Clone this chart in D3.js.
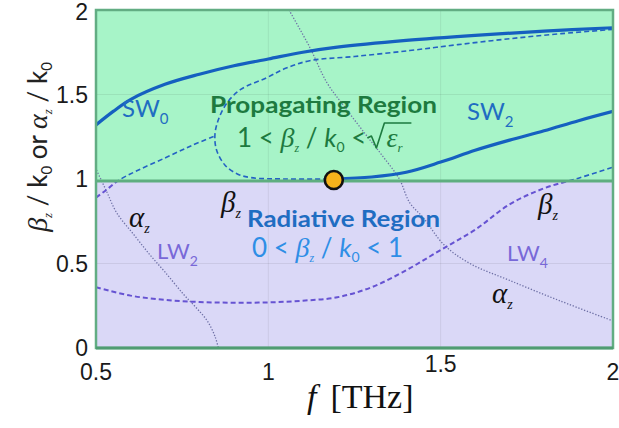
<!DOCTYPE html>
<html><head><meta charset="utf-8">
<script src="https://cdn.jsdelivr.net/npm/d3@7"></script>
<style>body{margin:0;background:#fff}svg{display:block}</style>
</head><body>
<svg id="c" width="619" height="428"></svg>
<script>
// ---------- data ----------
const xTicks = [0.5, 1, 1.5, 2];
const xTickLabels = ["0.5", "1", "1.5", "2"];
const yTicks = [0, 0.5, 1, 1.5, 2];
const yTickLabels = ["0", "0.5", "1", "1.5", "2"];

// SW0 beta (solid)
const sw0F = [0.5, 0.55, 0.6, 0.7, 0.8, 0.9, 1.0, 1.1, 1.2, 1.4, 1.6, 1.8, 2.0];
const sw0B = [1.32, 1.40, 1.47, 1.56, 1.62, 1.67, 1.71, 1.75, 1.78, 1.82, 1.85, 1.875, 1.895];
// SW2 beta (solid, starts at cutoff point)
const sw2F = [1.19, 1.3, 1.4, 1.5, 1.6, 1.7, 1.8, 1.9, 2.0];
const sw2B = [1.0, 1.012, 1.04, 1.10, 1.17, 1.23, 1.285, 1.345, 1.40];
// cutoff point
const cutF = [1.19];
const cutB = [1.0];
// dashed branch from the left edge
const dashAF = [0.5, 0.53, 0.564, 0.62, 0.706, 0.78, 0.845];
const dashAB = [0.89, 0.935, 0.99, 1.05, 1.13, 1.20, 1.255];
// dashed loop (parametric)
const dashBF = [2.0, 1.85, 1.7, 1.55, 1.41, 1.25, 1.12, 1.05, 0.996, 0.92, 0.88, 0.855, 0.845, 0.85, 0.875, 0.91, 0.95, 1.05, 1.19];
const dashBB = [1.885, 1.86, 1.83, 1.795, 1.76, 1.725, 1.70, 1.655, 1.60, 1.53, 1.45, 1.35, 1.26, 1.17, 1.08, 1.03, 1.008, 1.0, 1.0];
// leaky-wave beta (dashed)
const lwF = [0.5, 0.6, 0.7, 0.8, 0.9, 1.0, 1.1, 1.2, 1.3, 1.4, 1.5, 1.6, 1.7, 1.8, 1.9, 2.0];
const lwB = [0.36, 0.31, 0.285, 0.272, 0.268, 0.27, 0.28, 0.30, 0.36, 0.46, 0.58, 0.70, 0.85, 0.945, 1.005, 1.07];
// alpha curves (dotted)
const aLW2F = [0.47, 0.5, 0.53, 0.56, 0.61, 0.657, 0.70, 0.753, 0.79, 0.823, 0.845, 0.855];
const aLW2B = [1.2, 1.06, 0.93, 0.80, 0.67, 0.55, 0.45, 0.32, 0.24, 0.16, 0.07, 0.0];
const aLW4F = [1.06, 1.12, 1.17, 1.22, 1.28, 1.33, 1.38, 1.41, 1.45, 1.51, 1.585, 1.70, 1.845, 2.0];
const aLW4B = [2.0, 1.78, 1.57, 1.43, 1.27, 1.14, 1.0, 0.86, 0.77, 0.61, 0.50, 0.40, 0.28, 0.16];

// ---------- drawing ----------
const svg = d3.select("#c");
const x = d3.scaleLinear().domain([0.5, 2]).range([96, 613]);
const y = d3.scaleLinear().domain([0, 2]).range([348, 10]);
const X0 = x(0.5), X1 = x(2), Y0 = y(0), Y2 = y(2), Y1 = y(1) + 2;

const defs = svg.append("defs");
defs.append("clipPath").attr("id", "clipAll").append("rect")
  .attr("x", X0).attr("y", Y2).attr("width", X1 - X0).attr("height", Y0 - Y2);
defs.append("clipPath").attr("id", "clipTop").append("rect")
  .attr("x", X0).attr("y", Y2).attr("width", X1 - X0).attr("height", Y1 - Y2);
defs.append("clipPath").attr("id", "clipBot").append("rect")
  .attr("x", X0).attr("y", Y1).attr("width", X1 - X0).attr("height", Y0 - Y1);

svg.append("rect").attr("x", X0).attr("y", Y2).attr("width", X1 - X0).attr("height", Y1 - Y2).attr("fill", "#a7f4c8");
svg.append("rect").attr("x", X0).attr("y", Y1).attr("width", X1 - X0).attr("height", Y0 - Y1).attr("fill", "#dad8f7");

// faint grid
const grid = svg.append("g").attr("stroke", "#000").attr("stroke-opacity", 0.07).attr("stroke-width", 1);
[1, 1.5].forEach(v => grid.append("line").attr("x1", x(v)).attr("x2", x(v)).attr("y1", Y2).attr("y2", Y0));
[0.5, 1.5].forEach(v => grid.append("line").attr("y1", y(v)).attr("y2", y(v)).attr("x1", X0).attr("x2", X1));

const zip = (a, b) => a.map((v, i) => [v, b[i]]);
const lineP = d3.line().x(d => x(d[0])).y(d => y(d[1])).curve(d3.curveCatmullRom.alpha(0.5));

const curves = svg.append("g").attr("clip-path", "url(#clipAll)");
// dotted alpha
[zip(aLW2F, aLW2B), zip(aLW4F, aLW4B)].forEach(d =>
  curves.append("path").attr("d", lineP(d)).attr("fill", "none")
    .attr("stroke", "#6e70a6").attr("stroke-width", 1.3).attr("stroke-dasharray", "1.3,1.7"));

// dashed curves: blue above the boundary, purple below
const dashed = [zip(dashAF, dashAB), zip(dashBF, dashBB), zip(lwF, lwB)];
dashed.forEach(d => {
  curves.append("g").attr("clip-path", "url(#clipTop)").append("path").attr("d", lineP(d))
    .attr("fill", "none").attr("stroke", "#2462c4").attr("stroke-width", 1.6).attr("stroke-dasharray", "5,3");
  curves.append("g").attr("clip-path", "url(#clipBot)").append("path").attr("d", lineP(d))
    .attr("fill", "none").attr("stroke", "#6653d2").attr("stroke-width", 2).attr("stroke-dasharray", "5,3");
});

// frame + beta=1 boundary
svg.append("line").attr("x1", X0).attr("x2", X1).attr("y1", Y1).attr("y2", Y1)
  .attr("stroke", "#5eae80").attr("stroke-width", 3.2);
svg.append("rect").attr("x", X0).attr("y", Y2).attr("width", X1 - X0).attr("height", Y0 - Y2)
  .attr("fill", "none").attr("stroke", "#62ad83").attr("stroke-width", 2.5);
svg.append("line").attr("x1", X0).attr("x2", X1).attr("y1", Y0).attr("y2", Y0)
  .attr("stroke", "#4f9c72").attr("stroke-width", 3);

// solid curves
[zip(sw0F, sw0B), zip(sw2F, sw2B)].forEach(d =>
  curves.append("path").attr("d", lineP(d)).attr("fill", "none")
    .attr("stroke", "#1560c0").attr("stroke-width", 3.2).attr("stroke-linecap", "round"));

// cutoff point
svg.selectAll("circle.cut").data(zip(cutF, cutB)).join("circle").attr("class", "cut")
  .attr("cx", d => x(d[0])).attr("cy", d => y(d[1]) + 1).attr("r", 9)
  .attr("fill", "#f6b21b").attr("stroke", "#111").attr("stroke-width", 2.6);

// ---------- axes ----------
const tickFont = "'Liberation Sans', Arial, sans-serif";
svg.append("g").selectAll("text").data(yTicks).join("text")
  .attr("x", 88).attr("y", d => d === 2 ? y(d) + 10 : y(d) + 8).attr("text-anchor", "end")
  .attr("font-family", tickFont).attr("font-size", 23).attr("fill", "#1a1a1a")
  .text((d, i) => yTickLabels[i]);
svg.append("g").selectAll("text").data(xTicks).join("text")
  .attr("x", d => x(d)).attr("y", d => d === 1.5 ? 372 : 380).attr("text-anchor", "middle")
  .attr("font-family", tickFont).attr("font-size", 23).attr("fill", "#1a1a1a")
  .text((d, i) => xTickLabels[i]);

// ---------- rich text helper ----------
const SERIF = "'Liberation Serif', 'Times New Roman', serif";
const SANS = "Lato, 'Open Sans', sans-serif";
function rich(parent, x0, y0, parts, opts = {}) {
  const t = parent.append("text").attr("x", x0).attr("y", y0)
    .attr("fill", opts.fill || "#000").attr("font-family", SANS);
  if (opts.anchor) t.attr("text-anchor", opts.anchor);
  if (opts.transform) t.attr("transform", opts.transform);
  let shift = 0;
  parts.forEach(p => {
    const s = t.append("tspan").text(p.t);
    const want = p.sub || 0;
    if (want !== shift) { s.attr("dy", want - shift); shift = want; }
    s.attr("font-size", p.s).attr("font-family", p.f || SANS);
    if (p.it) s.attr("font-style", "italic");
    if (p.b) s.attr("font-weight", "bold");
    if (p.dx) s.attr("dx", p.dx);
  });
  return t;
}

// axis labels
rich(svg, 307, 408, [
  { t: "f", f: SERIF, s: 34, it: true },
  { t: "[THz]", f: SERIF, s: 34, dx: 14 }
], { fill: "#111" });

rich(svg, 0, 0, [
  { t: "β", f: SERIF, s: 28, it: true },
  { t: "z", f: SERIF, s: 13, it: true, sub: 5 },
  { t: " / k", s: 26 },
  { t: "0", s: 15, sub: 5 },
  { t: " or ", s: 26 },
  { t: "α", f: SERIF, s: 28, it: true },
  { t: "z", f: SERIF, s: 13, it: true, sub: 5 },
  { t: " / k", s: 26 },
  { t: "0", s: 15, sub: 5 }
], { anchor: "middle", fill: "#222", transform: "translate(47,147) rotate(-90)" });

// ---------- annotations ----------
const GREEN = "#1d7a3f", BLUE = "#1f6dc2", LBLUE = "#2e8ee6", PURP = "#7868d8";

rich(svg, 122, 117, [{ t: "SW", s: 24 }, { t: "0", s: 15, sub: 7 }], { fill: BLUE });
rich(svg, 467, 120, [{ t: "SW", s: 24 }, { t: "2", s: 15, sub: 7 }], { fill: BLUE });
rich(svg, 157, 259, [{ t: "LW", s: 22 }, { t: "2", s: 14, sub: 7 }], { fill: PURP });
rich(svg, 507, 261, [{ t: "LW", s: 22 }, { t: "4", s: 14, sub: 7 }], { fill: PURP });

svg.append("text").attr("x", 210).attr("y", 113).attr("font-family", SANS).attr("font-weight", "bold")
  .attr("font-size", 23).attr("fill", GREEN).attr("textLength", 227).attr("lengthAdjust", "spacingAndGlyphs")
  .text("Propagating Region");
svg.append("text").attr("x", 247).attr("y", 227).attr("font-family", SANS).attr("font-weight", "bold")
  .attr("font-size", 22).attr("fill", BLUE).attr("textLength", 193).attr("lengthAdjust", "spacingAndGlyphs")
  .text("Radiative Region");

const ineq1 = rich(svg, 237, 147, [
  { t: "1 < ", s: 26 },
  { t: "β", f: SERIF, s: 28, it: true },
  { t: "z", f: SERIF, s: 12, it: true, sub: 5 },
  { t: " / ", s: 26 },
  { t: "k", s: 26, it: true },
  { t: "0", s: 14, sub: 5 },
  { t: " <", s: 26 }
], { fill: GREEN });
const endX = 237 + ineq1.node().getComputedTextLength();
// radical sign and epsilon_r
const rx = endX + 1, ry = 147;
svg.append("path").attr("fill", "none").attr("stroke", GREEN).attr("stroke-width", 1.6)
  .attr("stroke-linejoin", "round")
  .attr("d", `M${rx},${ry - 9} L${rx + 4},${ry - 11} L${rx + 9},${ry + 1} L${rx + 17},${ry - 24} L${rx + 44},${ry - 24}`);
rich(svg, rx + 19, ry, [
  { t: "ε", f: SERIF, s: 28, it: true },
  { t: "r", f: SERIF, s: 13, it: true, sub: 5 }
], { fill: GREEN });

rich(svg, 252, 257, [
  { t: "0 < ", s: 26 },
  { t: "β", f: SERIF, s: 28, it: true },
  { t: "z", f: SERIF, s: 12, it: true, sub: 5 },
  { t: " / ", s: 26 },
  { t: "k", s: 26, it: true },
  { t: "0", s: 14, sub: 5 },
  { t: " < 1", s: 26 }
], { fill: LBLUE });

// black beta / alpha labels
rich(svg, 221, 212, [{ t: "β", f: SERIF, s: 29, it: true }, { t: "z", f: SERIF, s: 14, it: true, sub: 6 }], { fill: "#111" });
rich(svg, 538, 214, [{ t: "β", f: SERIF, s: 29, it: true }, { t: "z", f: SERIF, s: 14, it: true, sub: 6 }], { fill: "#111" });
rich(svg, 129, 227, [{ t: "α", f: SERIF, s: 29, it: true }, { t: "z", f: SERIF, s: 14, it: true, sub: 6 }], { fill: "#111" });
rich(svg, 492, 303, [{ t: "α", f: SERIF, s: 29, it: true }, { t: "z", f: SERIF, s: 14, it: true, sub: 6 }], { fill: "#111" });
</script>
</body></html>
